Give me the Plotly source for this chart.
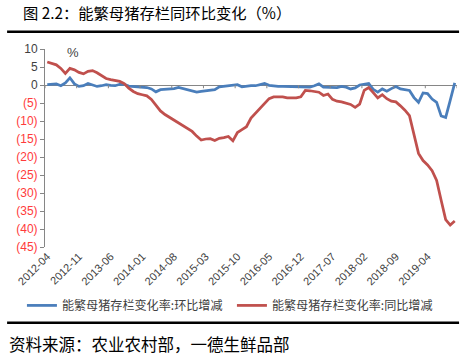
import plotly.graph_objects as go
import pandas as pd

months = pd.period_range("2012-04", "2019-10", freq="M").strftime("%Y-%m").tolist()

mom = [0.1, 0.1, 0.3, -0.2, 0.6, 2.0, 0.3, -0.4, -0.2, 0.4,
       0.0, -0.4, -0.2, 0.1, -0.1, -0.2, 0.2, 0.2, -0.3, -0.4,
       -0.7, -0.8, -0.7, -1.1, -1.9, -1.3, -1.2, -1.3, -1.0, -0.7,
       -1.0, -1.3, -1.6, -2.0, -1.8, -1.6, -1.4, -1.3, -0.5, -0.3,
       -0.2, -0.1, 0.1, -0.5, -0.3, -0.2, -0.2, 0.0, 0.4, -0.1,
       -0.3, -0.4, -0.4, -0.4, -0.4, -0.4, -0.4, -0.4, -0.6, -0.2,
       0.3, -0.6, -0.7, -0.8, -0.7, -0.4, -0.6, -1.1, -0.8, 0.0,
       0.2, 0.4, -1.2, -2.0, -1.1, -1.7, -1.0, -0.4, -1.1, -1.3,
       -1.5, -3.5, -4.8, -2.2, -2.4, -3.9, -4.8, -8.6, -9.0, -4.3,
       0.6]

yoy = [6.4, 6.0, 5.6, 4.6, 3.2, 4.6, 4.2, 3.5, 3.1, 3.8,
       4.0, 3.4, 2.6, 1.8, 1.5, 1.2, 1.0, 0.4, -0.9, -1.8,
       -2.4, -2.7, -3.0, -4.0, -5.5, -7.2, -8.2, -9.0, -9.8, -10.4,
       -11.2, -12.0, -12.9, -14.2, -15.3, -15.0, -14.9, -15.4, -14.8, -14.6,
       -14.3, -15.5, -13.2, -12.4, -11.6, -9.2, -7.8, -6.4, -4.9, -3.8,
       -3.3, -3.2, -3.3, -3.6, -3.6, -3.6, -3.3, -1.5, -1.6, -1.7,
       -2.0, -2.9, -2.5, -4.0, -4.5, -4.7, -5.0, -5.4, -6.2, -5.3,
       -1.5, -0.7, -2.1, -3.6, -2.7, -3.8, -4.5, -4.7, -5.8, -7.0,
       -8.5, -14.0, -19.0, -21.0, -22.2, -23.8, -26.5, -32.0, -37.4, -38.9,
       -37.8]

x_tick_labels = ["2012-04", "2012-11", "2013-06", "2014-01", "2014-08", "2015-03",
                 "2015-10", "2016-05", "2016-12", "2017-07", "2018-02", "2018-09", "2019-04"]
y_tick_vals = [10, 5, 0, -5, -10, -15, -20, -25, -30, -35, -40, -45]

series_names = ["能繁母猪存栏变化率:环比增减", "能繁母猪存栏变化率:同比增减"]
title_text = "图 2.2：能繁母猪存栏同环比变化（%）"
source_text = "资料来源：农业农村部，一德生鲜品部"

CJK = "Noto Sans CJK SC"
BLUE = "#4A7EBB"
RED = "#C0504D"


def fmt(v):
    if v < 0:
        return '<span style="color:#FF3B3B">(%d)</span>' % (-v)
    return '<span style="color:#3F3F3F">%d</span>' % v


fig = go.Figure()
fig.add_trace(go.Scatter(x=months, y=mom, mode="lines", name=series_names[0],
                         line=dict(color=BLUE, width=2.75)))
fig.add_trace(go.Scatter(x=months, y=yoy, mode="lines", name=series_names[1],
                         line=dict(color=RED, width=2.75)))

n = len(months)
shapes = []
for k in range(0, n + 1, 7):
    shapes.append(dict(type="line", xref="x", yref="y", x0=k - 0.5, x1=k - 0.5,
                       y0=0, y1=-0.9, line=dict(color="#868686", width=1)))
shapes.append(dict(type="line", xref="paper", yref="paper", x0=-0.092, x1=1.005,
                   y0=1.087, y1=1.087, line=dict(color="black", width=2.5)))
shapes.append(dict(type="line", xref="paper", yref="paper", x0=-0.092, x1=1.005,
                   y0=-0.382, y1=-0.382, line=dict(color="black", width=2.5)))

fig.update_layout(
    width=468, height=360,
    margin=dict(l=45, r=11, t=49, b=113, autoexpand=False),
    paper_bgcolor="white", plot_bgcolor="white",
    showlegend=True,
    legend=dict(orientation="h", x=-0.056, xanchor="left", y=-0.295, yanchor="middle",
                font=dict(family=CJK, size=12.1, color="#404040"),
                itemwidth=30, tracegroupgap=0, bgcolor="rgba(0,0,0,0)",
                entrywidth=165, entrywidthmode="pixels"),
    shapes=shapes,
    annotations=[
        dict(text=title_text, xref="paper", yref="paper", x=-0.058, y=1.185,
             xanchor="left", yanchor="middle", showarrow=False,
             font=dict(family=CJK, size=15.3, color="black")),
        dict(text="%", xref="paper", yref="paper", x=0.067, y=0.983,
             xanchor="center", yanchor="middle", showarrow=False,
             font=dict(family="Liberation Sans", size=13, color="#3F3F3F")),
        dict(text=source_text, xref="paper", yref="paper", x=-0.092, y=-0.488,
             xanchor="left", yanchor="middle", showarrow=False,
             font=dict(family=CJK, size=16.5, color="black")),
    ],
)

fig.update_xaxes(type="category", range=[-0.5, n - 0.5], automargin=False,
                 tickmode="array", tickvals=x_tick_labels, ticktext=x_tick_labels,
                 tickangle=-45, showgrid=False, showline=False, ticks="",
                 zeroline=False,
                 tickfont=dict(family="Liberation Sans", size=11, color="#404040"))
fig.update_yaxes(range=[-45, 10], automargin=False, tickmode="array", tickvals=y_tick_vals,
                 ticktext=[fmt(v) for v in y_tick_vals],
                 showgrid=False, showline=True, linecolor="#868686", linewidth=1,
                 ticks="outside", ticklen=4, tickcolor="#868686",
                 zeroline=True, zerolinecolor="#868686", zerolinewidth=1,
                 tickfont=dict(family="Liberation Sans", size=12, color="#3F3F3F"))

fig.write_html("out.html", config={"displayModeBar": False},
               post_script="document.body.style.margin='0';")
